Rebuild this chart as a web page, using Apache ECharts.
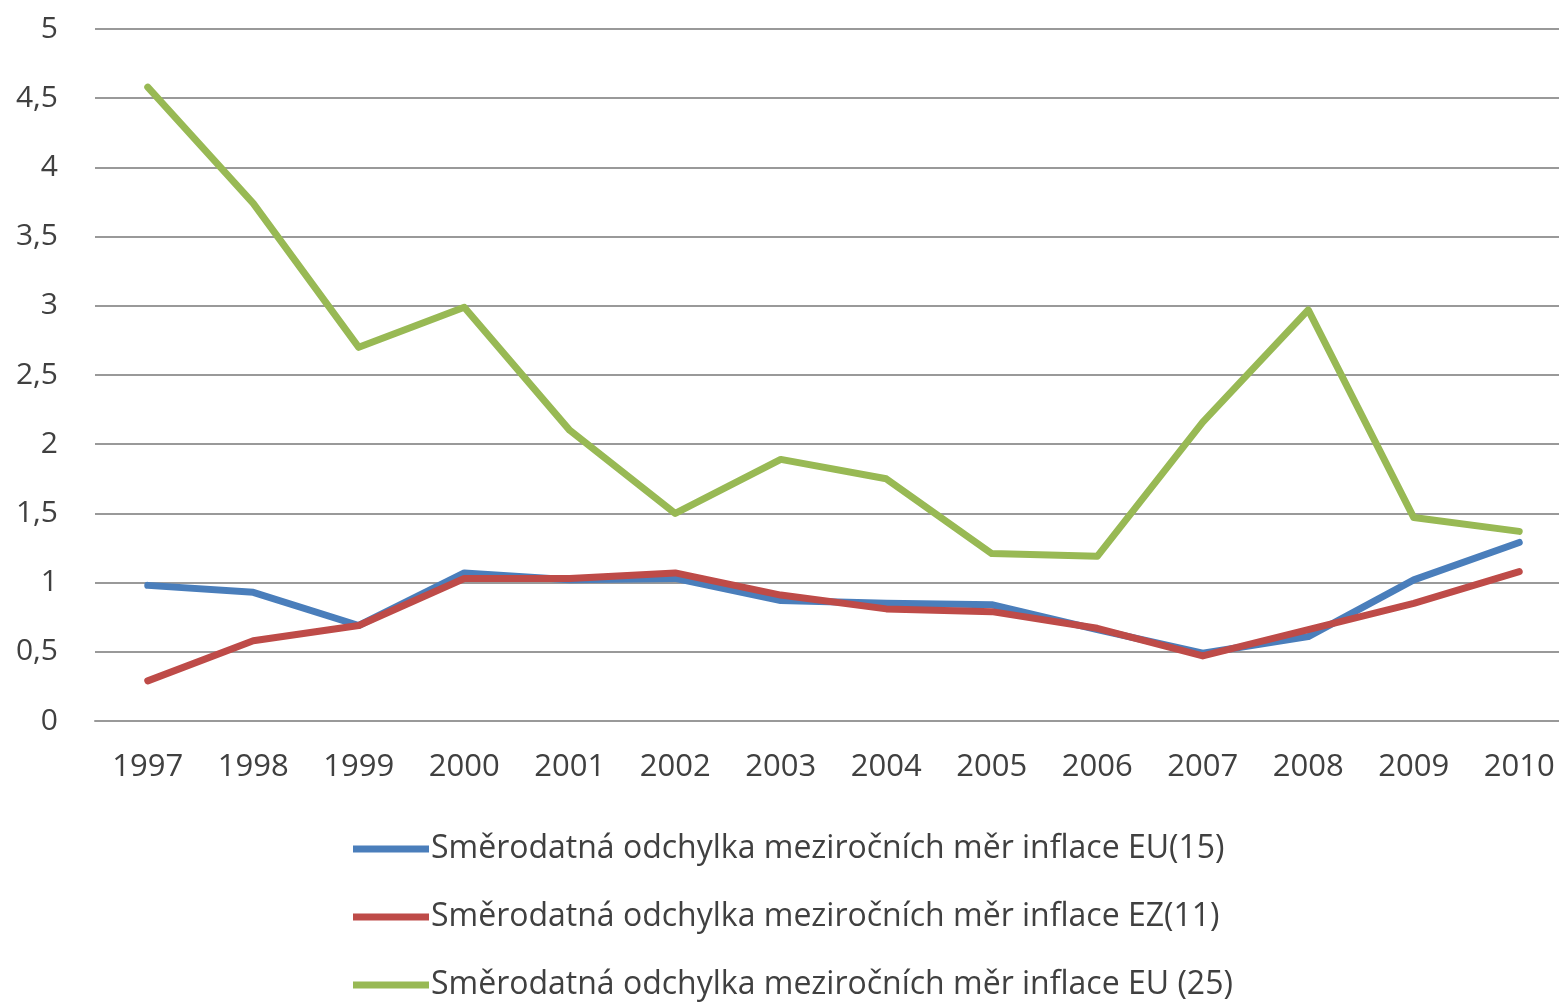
<!DOCTYPE html>
<html>
<head>
<meta charset="utf-8">
<script src="https://cdn.jsdelivr.net/npm/echarts@6/dist/echarts.min.js"></script>
<style>
  html, body { margin: 0; padding: 0; background: #fff; }
  #main { width: 1559px; height: 1002px; }
</style>
</head>
<body>
<div id="main"></div>
<script>
var years = ['1997','1998','1999','2000','2001','2002','2003','2004','2005','2006','2007','2008','2009','2010']
var eu15 = [0.98, 0.93, 0.69, 1.07, 1.02, 1.03, 0.87, 0.85, 0.84, 0.66, 0.49, 0.61, 1.02, 1.29]
var ez11 = [0.29, 0.58, 0.69, 1.03, 1.03, 1.07, 0.91, 0.81, 0.79, 0.67, 0.47, 0.66, 0.85, 1.08]
var eu25 = [4.58, 3.74, 2.70, 2.99, 2.10, 1.50, 1.89, 1.75, 1.21, 1.19, 2.16, 2.97, 1.47, 1.37]
var names = [
  'Směrodatná odchylka meziročních měr inflace EU(15)',
  'Směrodatná odchylka meziročních měr inflace EZ(11)',
  'Směrodatná odchylka meziročních měr inflace EU (25)'
]
var colors = ['#4A7EBB', '#BE4B48', '#98B954']

var chart = echarts.init(document.getElementById('main'))
var font = '"Open Sans", sans-serif'

function makeSeries(name, data, color){
  return {
    name: name,
    type: 'line',
    data: data,
    symbol: 'none',
    smooth: false,
    lineStyle: { width: 7, color: color, cap: 'round', join: 'round' },
    itemStyle: { color: color }
  }
}

// one legend per row so nothing wraps into a second column
var legendTops = [828, 896, 964]
var legends = []
for (var i = 0; i < names.length; i++) {
  legends.push({
    orient: 'vertical',
    left: 348,
    top: legendTops[i],
    itemWidth: 76,
    itemHeight: 7,
    icon: 'rect',
    textStyle: { fontFamily: font, fontSize: 32, color: '#404040', padding: [0, 0, 0, -3] },
    data: [names[i]]
  })
}

var option = {
  animation: false,
  backgroundColor: '#fff',
  color: colors,
  // grid runs past the right edge, as in the cropped original
  grid: { left: 95, top: 29, width: 1477, height: 692, outerBoundsMode: 'none' },
  legend: legends,
  xAxis: {
    type: 'category',
    data: years,
    boundaryGap: true,
    axisLine: { show: true, lineStyle: { color: '#999', width: 2 } },
    axisTick: { show: false },
    axisLabel: { margin: 31, fontFamily: font, fontSize: 31, color: '#404040' }
  },
  yAxis: {
    type: 'value',
    min: 0,
    max: 5,
    interval: 0.5,
    axisLine: { show: false },
    axisTick: { show: false },
    splitLine: { lineStyle: { color: '#999', width: 2 } },
    axisLabel: {
      margin: 37,
      fontFamily: font,
      fontSize: 30,
      color: '#404040',
      formatter: function(v){ return String(v).replace('.', ',') }
    }
  },
  series: [
    makeSeries(names[0], eu15, colors[0]),
    makeSeries(names[1], ez11, colors[1]),
    makeSeries(names[2], eu25, colors[2])
  ]
}
chart.setOption(option)
</script>
</body>
</html>
